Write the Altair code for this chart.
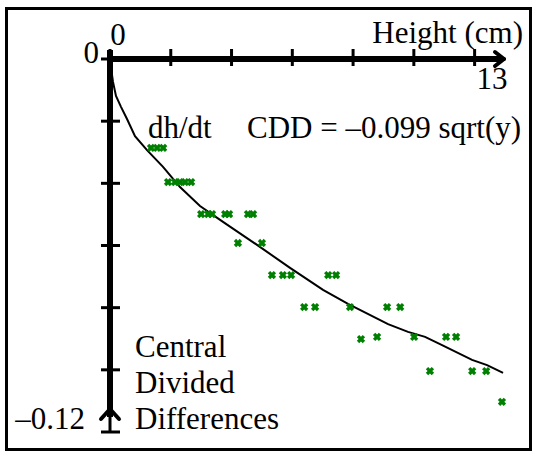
import altair as alt
import pandas as pd

# ---- data ----
pt_height = [1.35, 1.55, 1.75,
             1.91, 2.14, 2.30, 2.47, 2.67,
             3.00, 3.23, 3.36, 3.79, 3.92, 4.54, 4.71,
             4.21, 5.00,
             5.33, 5.69, 5.96, 7.18, 7.44,
             6.39, 6.75, 7.90, 9.12, 9.55,
             8.26, 8.79, 10.01, 11.06, 11.39,
             10.53, 11.92, 12.38,
             12.90]
pt_cdd = [-0.0286, -0.0286, -0.0286,
          -0.0396, -0.0396, -0.0396, -0.0396, -0.0396,
          -0.0499, -0.0499, -0.0499, -0.0499, -0.0499, -0.0499, -0.0499,
          -0.0592, -0.0592,
          -0.0695, -0.0695, -0.0695, -0.0695, -0.0695,
          -0.0798, -0.0798, -0.0798, -0.0798, -0.0798,
          -0.0901, -0.0894, -0.0894, -0.0894, -0.0894,
          -0.1004, -0.1004, -0.1004,
          -0.1103]

fit_height = [0.033, 0.099, 0.197, 0.362, 0.560, 0.823, 1.218, 1.745, 2.304,
              2.962, 3.719, 4.839, 5.925, 7.011, 7.834, 9.151, 9.809, 10.369,
              10.862, 11.916, 12.410, 12.936]
fit_cdd = [-0.0029, -0.0074, -0.0119, -0.0154, -0.0193, -0.0248, -0.0293,
           -0.0347, -0.0412, -0.0473, -0.0524, -0.0598, -0.0672, -0.0743,
           -0.0788, -0.0853, -0.0878, -0.0894, -0.0917, -0.0968, -0.0985,
           -0.1010]

x_ticks = [0, 2, 4, 6, 8, 10, 12]
y_ticks = [0, -0.02, -0.04, -0.06, -0.08, -0.10]
y_end = [-0.12]

x_labels = ["0", "13"]
y_labels = ["0", "\u20130.12"]
x_title = "Height (cm)"
y_title = ["Central", "Divided", "Differences"]
curve_label = "dh/dt"
eq_label = "CDD = \u20130.099 sqrt(y)"

FONT = "Liberation Serif, DejaVu Serif"
FS = 31

xs = alt.Scale(domain=[0, 13], nice=False, zero=False)
ys = alt.Scale(domain=[-0.12, 0], nice=False, zero=False)

one = pd.DataFrame({"a": [0]})
pts = pd.DataFrame({"h": pt_height, "c": pt_cdd})
fit = pd.DataFrame({"h": fit_height, "c": fit_cdd, "i": list(range(len(fit_height)))})
tx = pd.DataFrame({"v": x_ticks})
ty = pd.DataFrame({"v": y_ticks + y_end})


def seg(x1, y1, x2, y2, w, cap="butt"):
    return alt.Chart(one).mark_rule(color="black", strokeWidth=w, strokeCap=cap).encode(
        x=alt.value(x1), y=alt.value(y1), x2=alt.value(x2), y2=alt.value(y2))


# outer frame (left 6.5, top 8.5, right 530.5, bottom 449.5 in page pixels)
L, T, R, B = -103.5, -50.5, 420.5, 390.5
frame = [seg(L, T, R, T, 3, "square"), seg(L, B, R, B, 3, "square"),
         seg(L, T, L, B, 3, "square"), seg(R, T, R, B, 3, "square")]

xaxis = seg(-3, 0, 392, 0, 6)
yaxis = seg(0, -9, 0, 358, 6)
stem = seg(0, 352, 0, 372, 3)
arrows = [seg(385, -7, 394, 0, 4, "round"), seg(385, 7, 394, 0, 4, "round"),
          seg(-9, 360, 0, 350, 4, "round"), seg(9, 360, 0, 350, 4, "round")]

xt = alt.Chart(tx).mark_rule(color="black", strokeWidth=3).encode(
    x=alt.X("v:Q", scale=xs, axis=None), y=alt.value(-10), y2=alt.value(7))
yt = alt.Chart(ty).mark_rule(color="black", strokeWidth=3).encode(
    y=alt.Y("v:Q", scale=ys, axis=None), x=alt.value(-9), x2=alt.value(10))

curve = alt.Chart(fit).mark_line(color="black", strokeWidth=2).encode(
    x=alt.X("h:Q", scale=xs, axis=None),
    y=alt.Y("c:Q", scale=ys, axis=None),
    order="i:Q")

points = alt.Chart(pts).mark_point(shape="cross", angle=45, filled=True, size=70,
                                   color="#008000", opacity=1).encode(
    x=alt.X("h:Q", scale=xs, axis=None),
    y=alt.Y("c:Q", scale=ys, axis=None))


def txt(s, x, y, align="left"):
    return alt.Chart(one).mark_text(font=FONT, fontSize=FS, align=align,
                                    baseline="alphabetic", color="black").encode(
        x=alt.value(x), y=alt.value(y), text=alt.value(s))


texts = [
    txt(x_title, 413, -16, "right"),
    txt(x_labels[0], 8, -14, "center"),
    txt(x_labels[1], 382, 30, "center"),
    txt(y_labels[0], -11, 4, "right"),
    txt(y_labels[1], -25, 370, "right"),
    txt(curve_label, 38, 79),
    txt(eq_label, 137, 79),
    txt(y_title[0], 25, 298),
    txt(y_title[1], 25, 334),
    txt(y_title[2], 25, 370),
]

chart = alt.layer(*frame, curve, points, xt, yt, xaxis, yaxis, stem,
                  *arrows, *texts).properties(
    width=395, height=373,
    padding={"left": 110, "top": 59, "right": 30, "bottom": 19},
    autosize=alt.AutoSizeParams(type="none"),
    background="white",
).configure_view(stroke=None)

chart.save("out.html", embed_options={"renderer": "svg", "actions": False})
